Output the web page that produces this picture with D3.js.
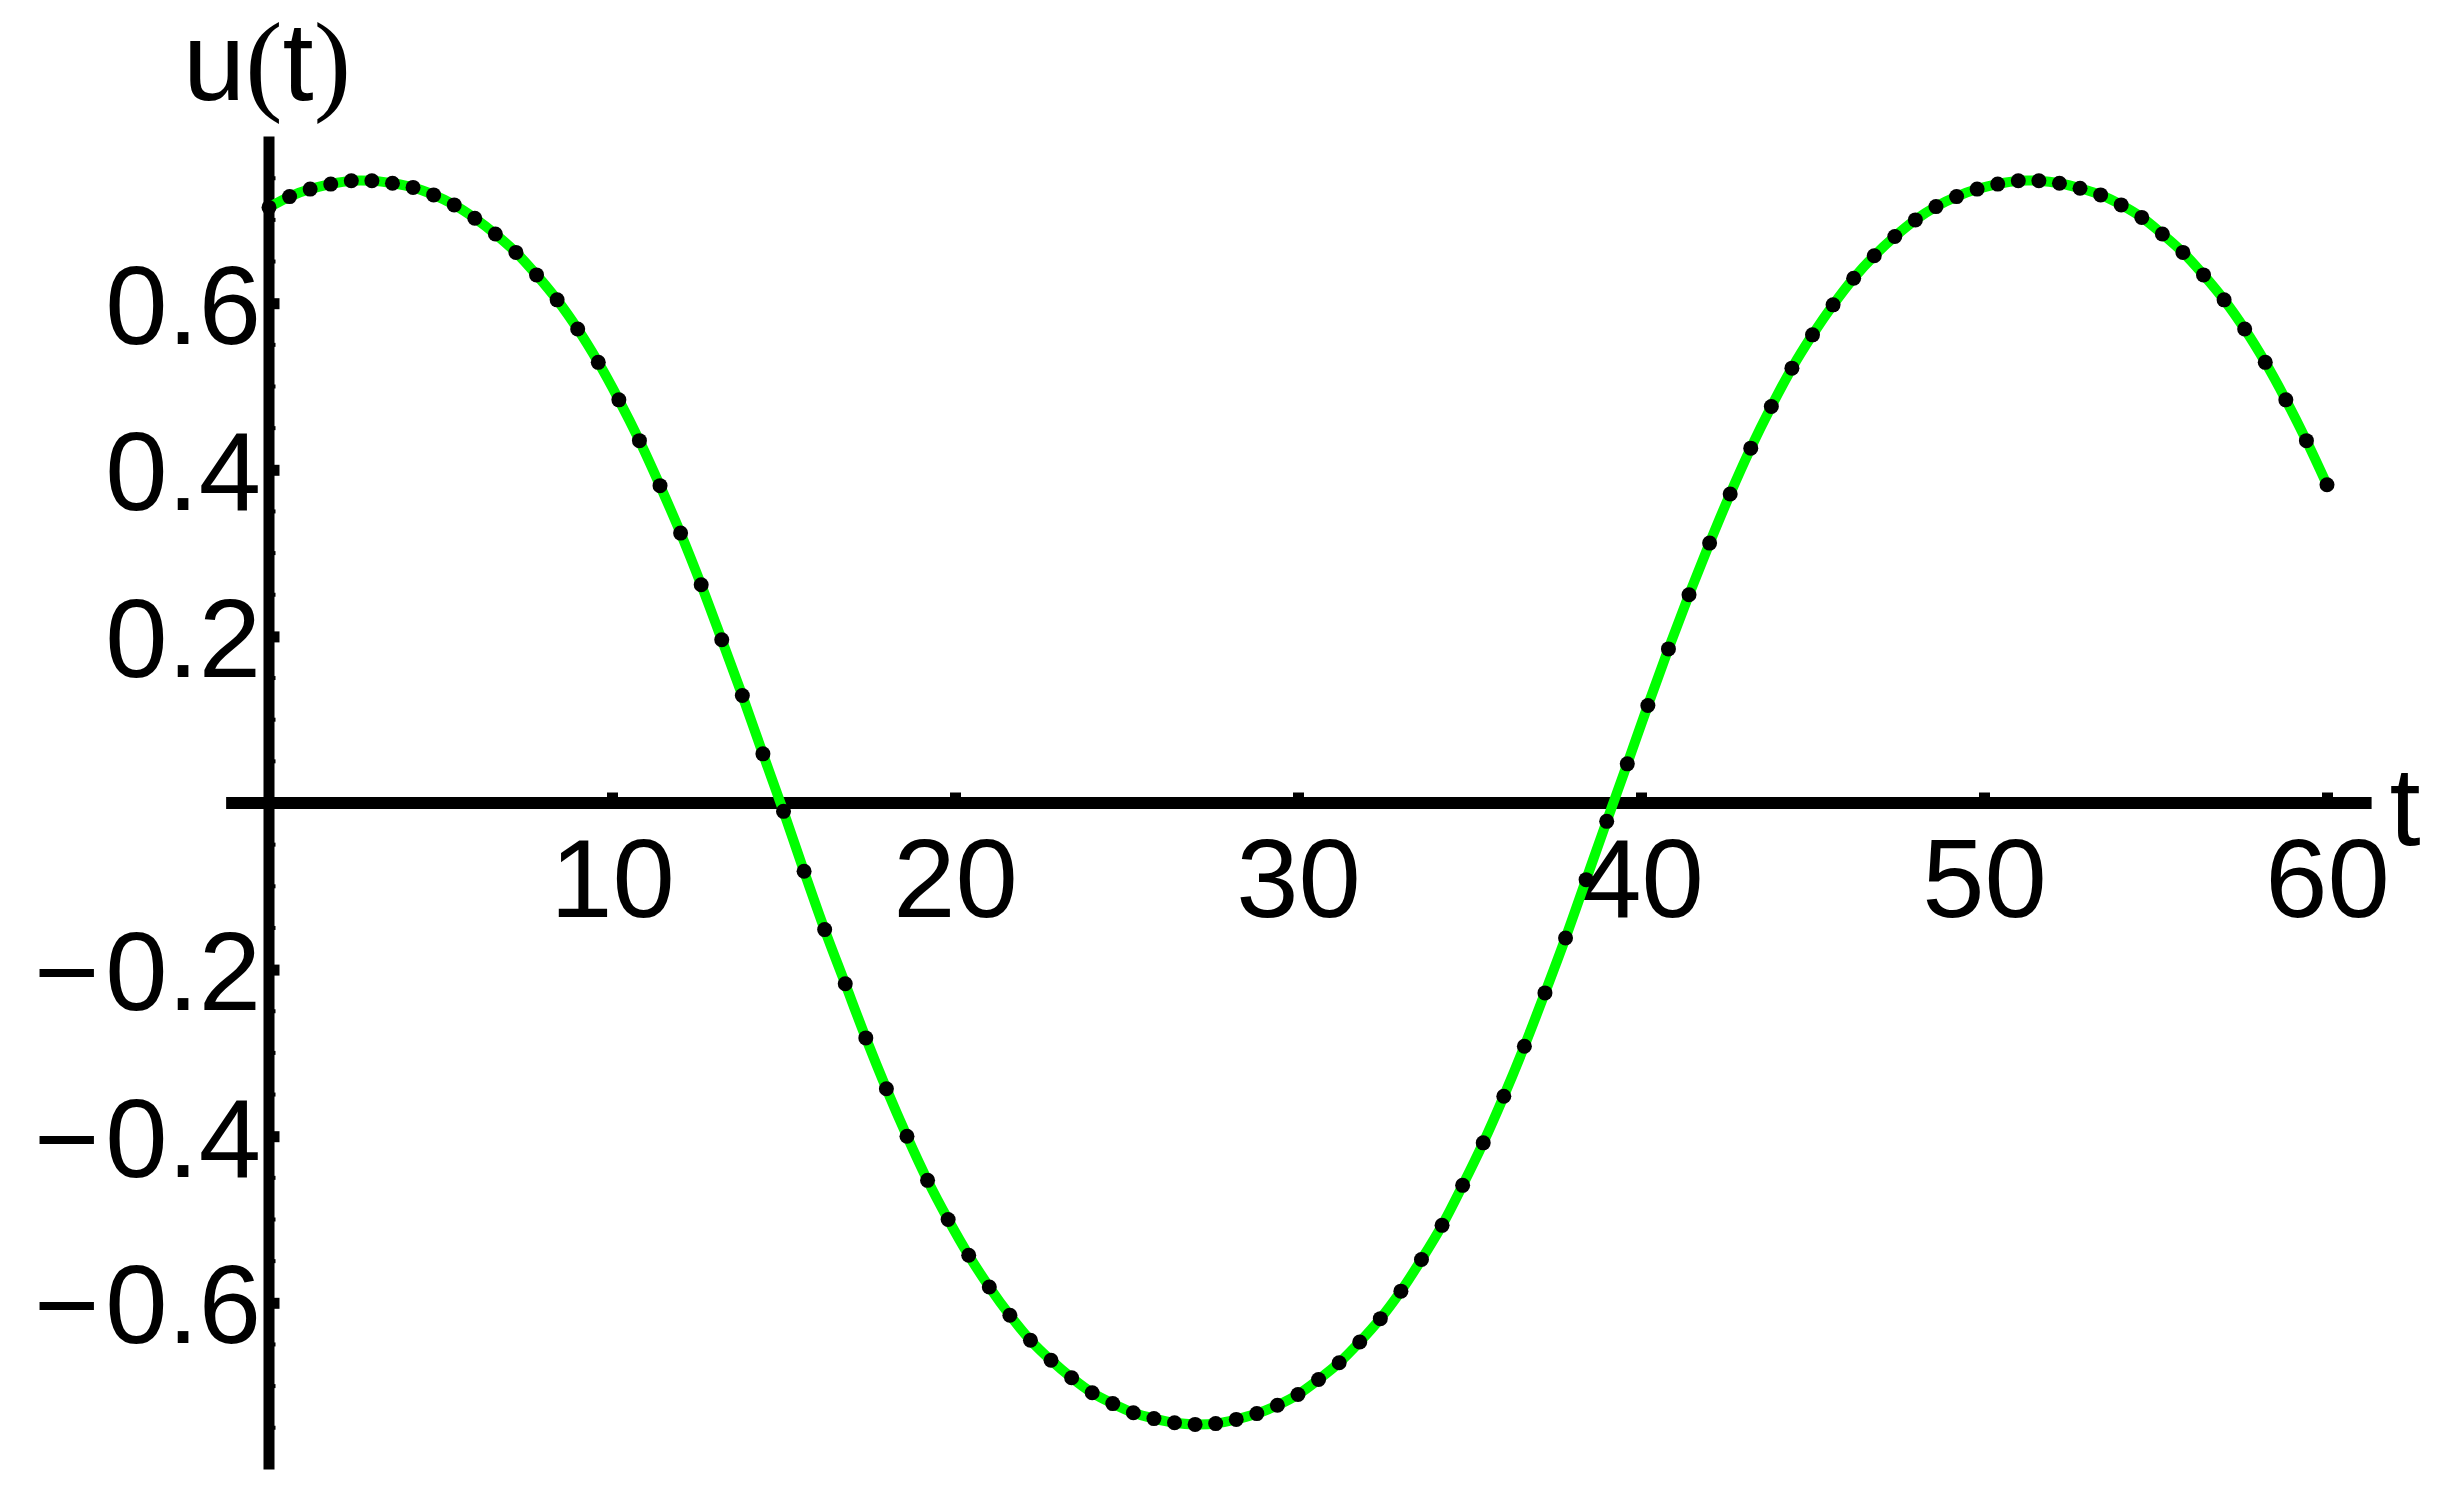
<!DOCTYPE html>
<html>
<head>
<meta charset="utf-8">
<script src="https://cdn.jsdelivr.net/npm/d3@7"></script>
<style>
  html, body { margin: 0; padding: 0; background: #fff; }
  svg { display: block; }
</style>
</head>
<body>
<div id="chart"></div>
<script>
// sample times (step 0.6) and u(t) values
const tValues = [
  0, 0.6, 1.2, 1.8, 2.4, 3, 3.6, 4.2, 4.8, 5.4,
  6, 6.6, 7.2, 7.8, 8.4, 9, 9.6, 10.2, 10.8, 11.4,
  12, 12.6, 13.2, 13.8, 14.4, 15, 15.6, 16.2, 16.8, 17.4,
  18, 18.6, 19.2, 19.8, 20.4, 21, 21.6, 22.2, 22.8, 23.4,
  24, 24.6, 25.2, 25.8, 26.4, 27, 27.6, 28.2, 28.8, 29.4,
  30, 30.6, 31.2, 31.8, 32.4, 33, 33.6, 34.2, 34.8, 35.4,
  36, 36.6, 37.2, 37.8, 38.4, 39, 39.6, 40.2, 40.8, 41.4,
  42, 42.6, 43.2, 43.8, 44.4, 45, 45.6, 46.2, 46.8, 47.4,
  48, 48.6, 49.2, 49.8, 50.4, 51, 51.6, 52.2, 52.8, 53.4,
  54, 54.6, 55.2, 55.8, 56.4, 57, 57.6, 58.2, 58.8, 59.4,
  60
];
const uValues = [
  0.715, 0.728, 0.737, 0.743, 0.747, 0.747, 0.744, 0.739, 0.730, 0.718,
  0.702, 0.683, 0.661, 0.634, 0.604, 0.569, 0.529, 0.484, 0.435, 0.381,
  0.324, 0.262, 0.196, 0.129, 0.059, -0.010, -0.082, -0.152, -0.217, -0.282,
  -0.343, -0.400, -0.453, -0.500, -0.543, -0.581, -0.615, -0.645, -0.669, -0.690,
  -0.708, -0.721, -0.732, -0.739, -0.744, -0.746, -0.745, -0.740, -0.733, -0.723,
  -0.710, -0.692, -0.672, -0.647, -0.619, -0.586, -0.548, -0.507, -0.459, -0.408,
  -0.352, -0.292, -0.228, -0.162, -0.092, -0.022, 0.047, 0.117, 0.185, 0.250,
  0.312, 0.371, 0.426, 0.476, 0.522, 0.562, 0.598, 0.630, 0.657, 0.680,
  0.700, 0.716, 0.728, 0.737, 0.743, 0.747, 0.747, 0.744, 0.738, 0.730,
  0.718, 0.703, 0.683, 0.661, 0.634, 0.604, 0.569, 0.529, 0.484, 0.435,
  0.382
];
const xTicks = [10, 20, 30, 40, 50, 60];
const yTicks = [-0.6, -0.4, -0.2, 0.2, 0.4, 0.6];
const yMinorTicks = [-0.75, -0.7, -0.65, -0.55, -0.5, -0.45, -0.35, -0.3, -0.25, -0.15, -0.1, -0.05,
                     0.05, 0.1, 0.15, 0.25, 0.3, 0.35, 0.45, 0.5, 0.55, 0.65, 0.7, 0.75];

const W = 2440, H = 1495;
const SANS = "'Liberation Sans', Arial, Helvetica, sans-serif";
const SERIF = "'Liberation Serif', 'Times New Roman', serif";
const FS = 112;
const AXIS_W = 11;

const data = tValues.map((t, i) => ({ t, u: uValues[i] }));

const x = d3.scaleLinear().domain([0, 60]).range([269, 2327]);
const y = d3.scaleLinear().domain([-0.8, 0.8]).range([1469.4, 136.6]);

const svg = d3.select('#chart').append('svg')
  .attr('width', W)
  .attr('height', H);

svg.append('rect').attr('width', W).attr('height', H).attr('fill', '#fff');

// --- axes ---
const xAxis = d3.axisBottom(x)
  .tickValues(xTicks)
  .tickFormat(d3.format('d'))
  .tickSizeInner(-(AXIS_W / 2 + 5))
  .tickSizeOuter(0)
  .tickPadding(34);

const gx = svg.append('g')
  .attr('transform', `translate(0,${y(0)})`)
  .call(xAxis);
gx.select('.domain').remove();
gx.selectAll('.tick line').attr('stroke', '#000').attr('stroke-width', AXIS_W);
gx.selectAll('.tick text')
  .attr('font-family', SANS)
  .attr('font-size', FS)
  .attr('fill', '#000');

const yAxis = d3.axisLeft(y)
  .tickValues(yTicks)
  .tickSizeInner(-(AXIS_W / 2 + 5))
  .tickSizeOuter(0)
  .tickPadding(8);

const gy = svg.append('g')
  .attr('transform', `translate(${x(0)},0)`)
  .call(yAxis);
gy.select('.domain').remove();
gy.selectAll('.tick line').attr('stroke', '#000').attr('stroke-width', AXIS_W);
gy.selectAll('.tick text')
  .attr('font-family', SANS)
  .attr('font-size', FS)
  .attr('fill', '#000')
  .attr('dy', '0.357em')
  .each(function (d) {
    const t = d3.select(this);
    t.text(null);
    if (d < 0) {
      t.append('tspan').text('\u2212');
      t.append('tspan').attr('dx', 6).text(d3.format('.1f')(-d));
    } else {
      t.append('tspan').text(d3.format('.1f')(d));
    }
  });

// minor ticks on the vertical axis (barely stick out)
svg.append('g')
  .selectAll('line')
  .data(yMinorTicks)
  .join('line')
  .attr('x1', x(0))
  .attr('x2', x(0) + AXIS_W / 2 + 1)
  .attr('y1', d => y(d))
  .attr('y2', d => y(d))
  .attr('stroke', '#000')
  .attr('stroke-width', 4);

// axis lines
svg.append('line')
  .attr('x1', x(-1.25)).attr('x2', x(61.3))
  .attr('y1', y(0)).attr('y2', y(0))
  .attr('stroke', '#000').attr('stroke-width', AXIS_W + 1);

svg.append('line')
  .attr('x1', x(0)).attr('x2', x(0))
  .attr('y1', y(0.8)).attr('y2', y(-0.8))
  .attr('stroke', '#000').attr('stroke-width', AXIS_W);

// axis labels
svg.append('text')
  .attr('x', x(61.3) + 18)
  .attr('y', 845)
  .attr('font-family', SANS)
  .attr('font-size', FS)
  .text('t');

const ul = svg.append('text')
  .attr('x', 183)
  .attr('y', 100)
  .attr('font-size', FS);
ul.append('tspan').attr('font-family', SANS).text('u');
ul.append('tspan').attr('font-family', SERIF).text('(');
ul.append('tspan').attr('font-family', SANS).text('t');
ul.append('tspan').attr('font-family', SERIF).text(')');

// --- curve ---
const line = d3.line()
  .x(d => x(d.t))
  .y(d => y(d.u))
  .curve(d3.curveCatmullRom);

svg.append('path')
  .datum(data)
  .attr('d', line)
  .attr('fill', 'none')
  .attr('stroke', '#00ff00')
  .attr('stroke-width', 10);

svg.append('g')
  .selectAll('circle')
  .data(data)
  .join('circle')
  .attr('cx', d => x(d.t))
  .attr('cy', d => y(d.u))
  .attr('r', 7.5)
  .attr('fill', '#000');
</script>
</body>
</html>
